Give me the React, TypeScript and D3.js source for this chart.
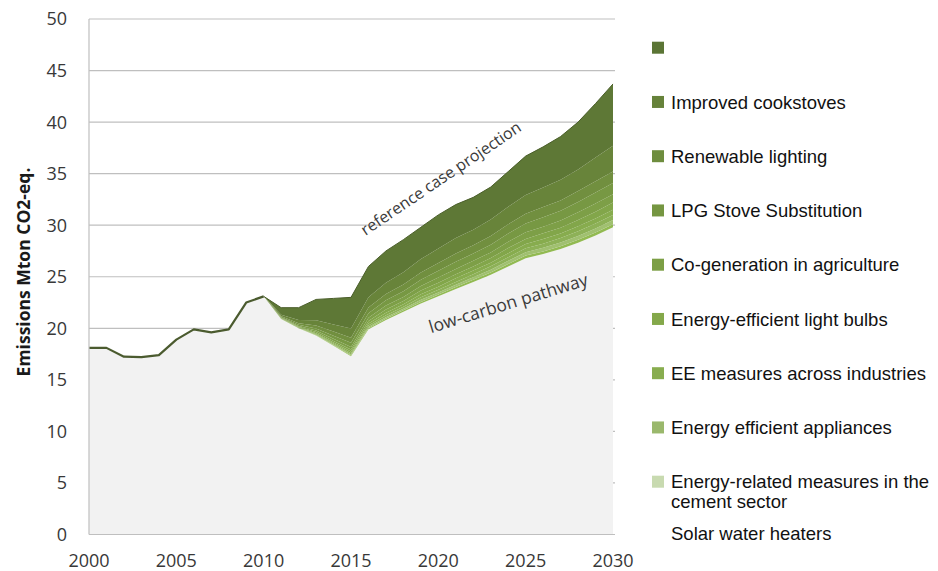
import React from "react";
import * as d3 from "d3";

// ---- data ----
const years: number[] = d3.range(2000, 2031);
// low-carbon pathway (historical until 2010), Mton CO2-eq.
const lowCarbon: number[] = [
  18.1, 18.1, 17.25, 17.2, 17.4, 18.9, 19.9, 19.6, 19.9, 22.5, 23.1,
  20.9, 20.0, 19.3, 18.3, 17.3, 19.9, 20.8, 21.6, 22.4, 23.1,
  23.8, 24.5, 25.2, 26.0, 26.8, 27.2, 27.7, 28.3, 29.0, 29.8,
];
const measureYears: number[] = d3.range(2010, 2031);
// reductions per measure (bottom of stack first)
const solarWater = [0, 0.01, 0.01, 0.03, 0.05, 0.07, 0.1, 0.12, 0.14, 0.16, 0.18, 0.2, 0.2, 0.22, 0.24, 0.25, 0.26, 0.27, 0.28, 0.29, 0.3];
const cement = [0, 0.01, 0.02, 0.05, 0.08, 0.1, 0.12, 0.15, 0.15, 0.2, 0.2, 0.22, 0.25, 0.27, 0.3, 0.32, 0.35, 0.36, 0.38, 0.4, 0.4];
const appliances = [0, 0.01, 0.03, 0.07, 0.1, 0.12, 0.15, 0.2, 0.2, 0.25, 0.25, 0.28, 0.3, 0.32, 0.35, 0.4, 0.4, 0.42, 0.45, 0.47, 0.5];
const eeIndustries = [0, 0.02, 0.04, 0.08, 0.1, 0.15, 0.2, 0.25, 0.25, 0.3, 0.3, 0.35, 0.35, 0.35, 0.4, 0.4, 0.45, 0.45, 0.5, 0.5, 0.5];
const lightBulbs = [0, 0.03, 0.05, 0.1, 0.15, 0.2, 0.25, 0.3, 0.3, 0.35, 0.4, 0.4, 0.4, 0.45, 0.5, 0.5, 0.55, 0.55, 0.6, 0.65, 0.7];
const coGeneration = [0, 0.04, 0.08, 0.15, 0.2, 0.25, 0.3, 0.4, 0.4, 0.45, 0.5, 0.5, 0.55, 0.55, 0.6, 0.65, 0.65, 0.7, 0.75, 0.8, 0.8];
const lpgStove = [0, 0.06, 0.12, 0.2, 0.3, 0.4, 0.45, 0.5, 0.55, 0.6, 0.65, 0.7, 0.7, 0.75, 0.8, 0.85, 0.9, 0.95, 1.0, 1.05, 1.1];
const renewableLighting = [0, 0.08, 0.15, 0.3, 0.4, 0.5, 0.55, 0.6, 0.65, 0.7, 0.75, 0.8, 0.8, 0.85, 0.9, 0.95, 1.0, 1.0, 1.05, 1.1, 1.1];
const cookstoves = [0, 0.15, 0.3, 0.5, 0.7, 0.9, 1.0, 1.1, 1.2, 1.3, 1.4, 1.5, 1.5, 1.6, 1.7, 1.8, 1.9, 2.0, 2.1, 2.3, 2.5];
const unnamedMeasure = [0, 0.69, 1.2, 2.02, 2.52, 3.01, 2.98, 3.08, 3.16, 3.09, 3.27, 3.25, 3.15, 3.14, 3.41, 3.78, 3.94, 4.2, 4.59, 5.24, 6.0];

const seriesKeys = ["solar", "cement", "appliances", "eeInd", "bulbs", "cogen", "lpg", "renew", "cook", "top"];
const seriesValues: number[][] = [solarWater, cement, appliances, eeIndustries, lightBulbs, coGeneration, lpgStove, renewableLighting, cookstoves, unnamedMeasure];
const seriesColors = ["#92ba52", "#a0c070", "#8db157", "#87ac4e", "#82a64a", "#7d9f47", "#779843", "#718f3f", "#68843a", "#5e7836"];

const legendLabels = [
  [""],
  ["Improved cookstoves"],
  ["Renewable lighting"],
  ["LPG Stove Substitution"],
  ["Co-generation in agriculture"],
  ["Energy-efficient light bulbs"],
  ["EE measures across industries"],
  ["Energy efficient appliances"],
  ["Energy-related measures in the", "cement sector"],
];
const legendSwatch = ["#5b7535", "#66823a", "#6e8d3e", "#759641", "#7c9f45", "#84a84a", "#88ad4f", "#9ab86c", "#c8dab0"];
const legendExtra = "Solar water heaters";

const yTicks = [0, 5, 10, 15, 20, 25, 30, 35, 40, 45, 50];
const xTicks = [2000, 2005, 2010, 2015, 2020, 2025, 2030];

export default function App() {
  const W = 938, H = 571;
  const x = d3.scaleLinear().domain([2000, 2030]).range([89, 613]);
  const y = d3.scaleLinear().domain([0, 50]).range([534.5, 19]);

  const baseByYear = new Map(years.map((yr, i) => [yr, lowCarbon[i]]));
  const rows = measureYears.map((yr, i) => {
    const r: any = { year: yr };
    seriesKeys.forEach((k, j) => (r[k] = seriesValues[j][i]));
    return r;
  });
  const stacked = d3.stack<any>().keys(seriesKeys)(rows);

  const baseArea = d3
    .area<number>()
    .x((_, i) => x(years[i]))
    .y0(y(0))
    .y1((d) => y(d))(lowCarbon);

  const layerArea = d3
    .area<any>()
    .x((d) => x(d.data.year))
    .y0((d) => y(baseByYear.get(d.data.year)! + d[0]))
    .y1((d) => y(baseByYear.get(d.data.year)! + d[1]));

  const topLayer = stacked[stacked.length - 1];
  const refLine = d3
    .line<any>()
    .x((d) => x(d.data.year))
    .y((d) => y(baseByYear.get(d.data.year)! + d[1]))(topLayer);

  const histIdx = years.map((_, i) => i).filter((i) => years[i] <= 2010);
  const histLine = d3
    .line<number>()
    .x((i) => x(years[i]))
    .y((i) => y(lowCarbon[i]))(histIdx);

  const tickFont = "'Open Sans', 'DejaVu Sans', sans-serif";
  const legFont = "'Liberation Sans', Arial, sans-serif";

  return (
    <svg width={W} height={H} style={{ position: "absolute", left: 0, top: 0, background: "#fff" }}>
      {/* gridlines */}
      {yTicks.map((t) => (
        <line key={t} x1={x(2000)} x2={x(2030) + 2} y1={y(t)} y2={y(t)} stroke="#bfbfbf" strokeWidth={1.2} />
      ))}
      {/* baseline area */}
      <path d={baseArea!} fill="#f2f2f2" />
      {/* stacked measures */}
      {stacked.map((s, i) => (
        <path key={s.key} d={layerArea(s)!} fill={seriesColors[i]} />
      ))}
      <path d={refLine!} fill="none" stroke="#4a5e2a" strokeWidth={1} />
      <path d={histLine!} fill="none" stroke="#4b5b2f" strokeWidth={2.2} strokeLinejoin="round" />
      {/* axes */}
      <line x1={x(2000)} x2={x(2000)} y1={y(50)} y2={y(0)} stroke="#bfbfbf" strokeWidth={1.2} />
      <line x1={x(2000)} x2={x(2030)} y1={y(0)} y2={y(0)} stroke="#bfbfbf" strokeWidth={1.2} />
      {yTicks.map((t) => (
        <text key={t} x={67} y={y(t)} dy="0.36em" textAnchor="end" fontFamily={tickFont} fontSize={18} fill="#383838">
          {t}
        </text>
      ))}
      {xTicks.map((t) => (
        <text key={t} x={x(t)} y={567} textAnchor="middle" fontFamily={tickFont} fontSize={18} fill="#383838">
          {t}
        </text>
      ))}
      <text
        transform={`translate(30,272) rotate(-90)`}
        textAnchor="middle"
        fontFamily={tickFont}
        fontWeight="bold"
        fontSize={17.5}
        fill="#1a1a1a"
      >
        Emissions Mton CO2-eq.
      </text>
      {/* annotations */}
      <text transform="translate(444,183) rotate(-34)" textAnchor="middle" fontFamily={tickFont} fontSize={16} fill="#3a3a3a">
        reference case projection
      </text>
      <text transform="translate(510,309) rotate(-17)" textAnchor="middle" fontFamily={tickFont} fontSize={17.5} fill="#3a3a3a">
        low-carbon pathway
      </text>
      {/* legend */}
      {legendLabels.map((lines, i) => {
        const cy = 47.7 + i * 54.25;
        return (
          <g key={i}>
            <rect x={652} y={cy - 6} width={12} height={12} fill={legendSwatch[i]} />
            {lines.map((ln, j) => (
              <text key={j} x={671} y={cy + j * 19.5} dy="0.36em" fontFamily={legFont} fontSize={18.5} fill="#111">
                {ln}
              </text>
            ))}
          </g>
        );
      })}
      <text x={671} y={533.5} dy="0.36em" fontFamily={legFont} fontSize={18.5} fill="#111">
        {legendExtra}
      </text>
    </svg>
  );
}
